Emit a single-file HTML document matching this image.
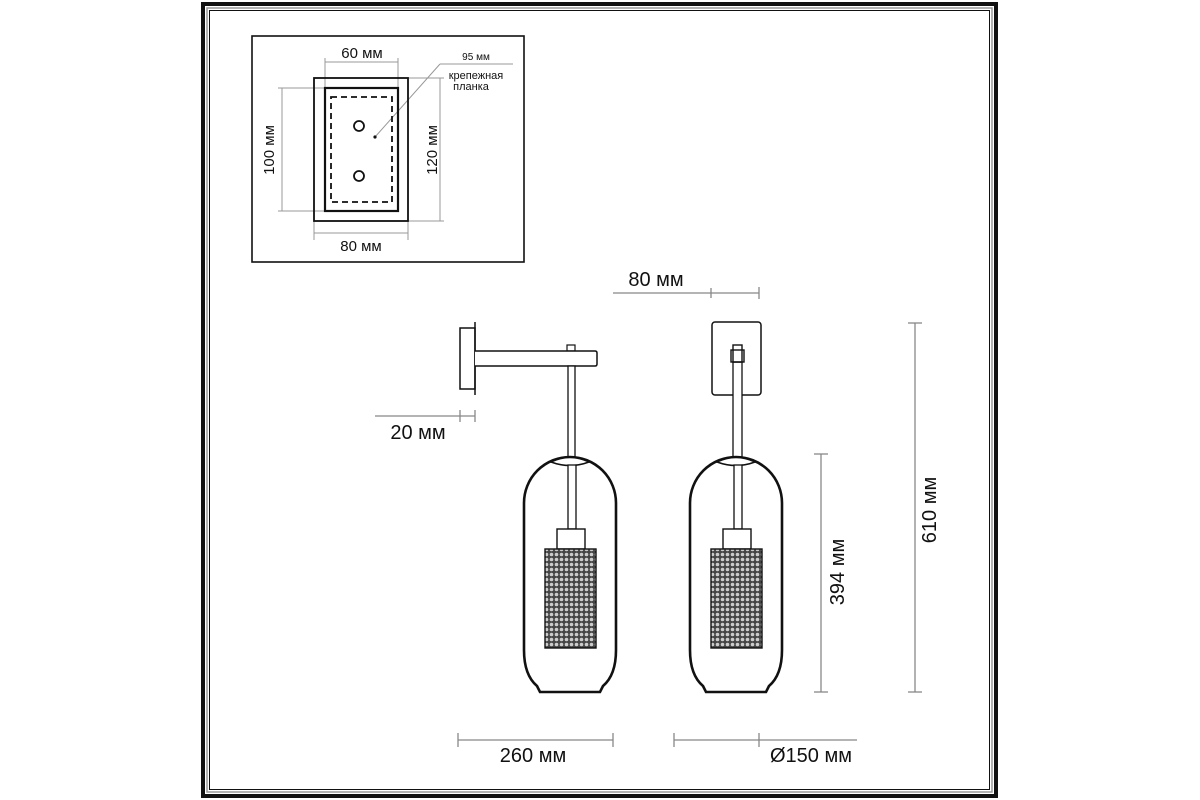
<!DOCTYPE html>
<html><head><meta charset="utf-8"><style>
html,body{margin:0;padding:0;background:#fff;}
svg{display:block;}
text{font-family:"Liberation Sans",sans-serif;fill:#111;}
</style></head><body>
<svg width="1200" height="800" viewBox="0 0 1200 800" xmlns="http://www.w3.org/2000/svg">
<defs>
<pattern id="mesh" width="5" height="5" patternUnits="userSpaceOnUse">
<rect width="5" height="5" fill="#444"/>
<circle cx="2.5" cy="2.5" r="1.8" fill="#ccc"/>
</pattern>
<g id="glass">
<path d="M0,46 A46,46 0 0 1 92,46 L92,193 Q92,218 79,229 L76,235 L16,235 L13,229 Q0,218 0,193 Z" fill="none" stroke="#111" stroke-width="2.6"/>
<path d="M27,5 Q46,-4 65,5 Q46,12 27,5 Z" fill="#fff" stroke="#111" stroke-width="1.5"/>
<rect x="44" y="8" width="8" height="64" fill="#fff" stroke="#111" stroke-width="1.3"/>
<rect x="33" y="72" width="28" height="20" fill="#fff" stroke="#111" stroke-width="1.4"/>
<rect x="21" y="92" width="51" height="99" fill="url(#mesh)" stroke="#111" stroke-width="1.4"/>
</g>
</defs>
<rect x="203" y="4" width="793" height="792" fill="none" stroke="#111" stroke-width="4"/>
<rect x="207" y="8" width="785" height="784" fill="none" stroke="#999" stroke-width="1.5"/>
<rect x="209.5" y="10.5" width="780" height="779" fill="none" stroke="#111" stroke-width="1"/>

<rect x="252" y="36" width="272" height="226" fill="none" stroke="#111" stroke-width="1.6"/>
<g stroke="#999" stroke-width="1" fill="none">
<line x1="325" y1="58" x2="325" y2="88"/><line x1="398" y1="58" x2="398" y2="88"/><line x1="325" y1="62" x2="398" y2="62"/>
<line x1="314" y1="221" x2="314" y2="240"/><line x1="408" y1="221" x2="408" y2="240"/><line x1="314" y1="233" x2="408" y2="233"/>
<line x1="278" y1="88" x2="325" y2="88"/><line x1="278" y1="211" x2="325" y2="211"/><line x1="282" y1="88" x2="282" y2="211"/>
<line x1="408" y1="78" x2="444" y2="78"/><line x1="408" y1="221" x2="444" y2="221"/><line x1="440" y1="78" x2="440" y2="221"/>
<line x1="375" y1="137" x2="440" y2="64"/><line x1="440" y1="64" x2="513" y2="64"/>
</g>
<rect x="314" y="78" width="94" height="143" fill="none" stroke="#111" stroke-width="1.8"/>
<rect x="325" y="88" width="73" height="123" fill="none" stroke="#111" stroke-width="2.2"/>
<rect x="331" y="97" width="61" height="105" fill="none" stroke="#111" stroke-width="1.8" stroke-dasharray="6,4"/>
<circle cx="359" cy="126" r="5" fill="none" stroke="#111" stroke-width="1.8"/>
<circle cx="359" cy="176" r="5" fill="none" stroke="#111" stroke-width="1.8"/>
<circle cx="375" cy="137" r="1.6" fill="#111"/>
<text x="362" y="58" font-size="15" text-anchor="middle">60 мм</text>
<text x="361" y="251" font-size="15" text-anchor="middle">80 мм</text>
<text x="476" y="60" font-size="10" text-anchor="middle">95 мм</text>
<text x="476" y="79" font-size="11" text-anchor="middle">крепежная</text>
<text x="471" y="90" font-size="11" text-anchor="middle">планка</text>
<text transform="translate(274,150) rotate(-90)" font-size="15" text-anchor="middle">100 мм</text>
<text transform="translate(437,150) rotate(-90)" font-size="15" text-anchor="middle">120 мм</text>

<rect x="460" y="328" width="15" height="61" fill="#fff" stroke="#111" stroke-width="1.5"/>
<line x1="475" y1="322" x2="475" y2="395" stroke="#111" stroke-width="1.5"/>
<rect x="567" y="345" width="8" height="6" fill="#fff" stroke="#111" stroke-width="1.2"/>
<path d="M475,351 L595,351 Q597,351 597,353 L597,364 Q597,366 595,366 L475,366" fill="#fff" stroke="#111" stroke-width="1.5"/>
<rect x="568" y="366" width="7" height="92" fill="#fff" stroke="#111" stroke-width="1.3"/>
<use href="#glass" x="524" y="457"/>

<rect x="712" y="322" width="49" height="73" rx="3" fill="#fff" stroke="#111" stroke-width="1.5"/>
<rect x="733" y="362" width="9" height="96" fill="#fff" stroke="#111" stroke-width="1.3"/>
<rect x="733" y="345" width="9" height="17" fill="#fff" stroke="#111" stroke-width="1.4"/>
<rect x="731" y="350" width="13" height="12" fill="none" stroke="#111" stroke-width="1.4"/>
<use href="#glass" x="690" y="457"/>

<g stroke="#888" stroke-width="1.3" fill="none">
<line x1="613" y1="293" x2="759" y2="293"/><line x1="711" y1="288" x2="711" y2="298"/><line x1="759" y1="287" x2="759" y2="299"/>
<line x1="375" y1="416" x2="475" y2="416"/><line x1="460" y1="410" x2="460" y2="422"/><line x1="475" y1="410" x2="475" y2="422"/>
<line x1="821" y1="454" x2="821" y2="692"/><line x1="814" y1="454" x2="828" y2="454"/><line x1="814" y1="692" x2="828" y2="692"/>
<line x1="915" y1="323" x2="915" y2="692"/><line x1="908" y1="323" x2="922" y2="323"/><line x1="908" y1="692" x2="922" y2="692"/>
<line x1="458" y1="740" x2="613" y2="740"/><line x1="458" y1="733" x2="458" y2="747"/><line x1="613" y1="733" x2="613" y2="747"/>
<line x1="674" y1="740" x2="857" y2="740"/><line x1="674" y1="733" x2="674" y2="747"/><line x1="759" y1="733" x2="759" y2="747"/>
</g>
<text x="656" y="286" font-size="20" text-anchor="middle">80 мм</text>
<text x="418" y="439" font-size="20" text-anchor="middle">20 мм</text>
<text x="533" y="762" font-size="20" text-anchor="middle">260 мм</text>
<text x="811" y="762" font-size="20" text-anchor="middle">Ø150 мм</text>
<text transform="translate(844,572) rotate(-90)" font-size="20" text-anchor="middle">394 мм</text>
<text transform="translate(936,510) rotate(-90)" font-size="20" text-anchor="middle">610 мм</text>
</svg>
</body></html>
